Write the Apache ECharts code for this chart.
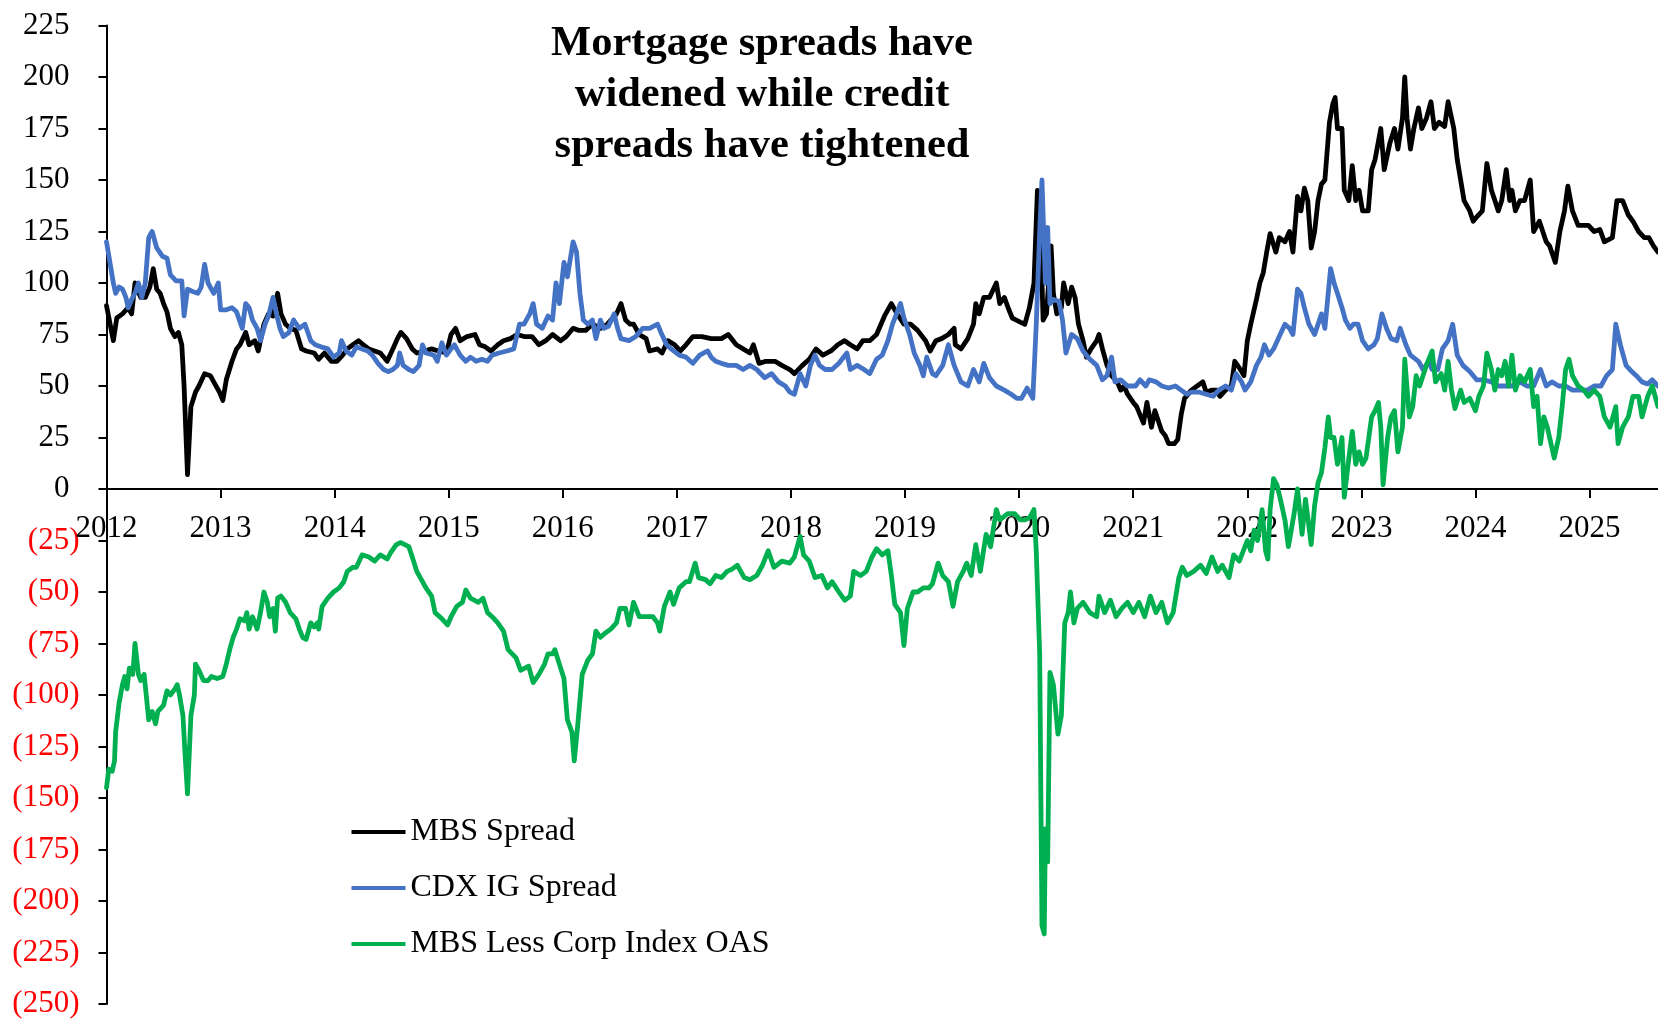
<!DOCTYPE html>
<html>
<head>
<meta charset="utf-8">
<script src="https://cdn.jsdelivr.net/npm/echarts@6/dist/echarts.min.js"></script>
<style>
html,body{margin:0;padding:0;background:#fff;}
#chart{width:1658px;height:1020px;}
</style>
</head>
<body>
<div id="chart"></div>
<script>
const yearTicks = [2012,2013,2014,2015,2016,2017,2018,2019,2020,2021,2022,2023,2024,2025];
const seriesNames = ['MBS Spread', 'CDX IG Spread', 'MBS Less Corp Index OAS'];
const titleLines = ['Mortgage spreads have', 'widened while credit', 'spreads have tightened'];

// [decimal year, bp]
const mbsSpread = [[2012.00,89],[2012.06,72],[2012.09,83],[2012.14,85],[2012.19,88],[2012.22,85],[2012.25,100],[2012.30,93],[2012.34,93],[2012.38,98],[2012.41,107],[2012.44,97],[2012.47,95],[2012.50,90],[2012.53,86],[2012.56,78],[2012.60,74],[2012.63,76],[2012.66,70],[2012.68,50],[2012.71,7],[2012.74,40],[2012.78,47],[2012.81,50],[2012.86,56],[2012.91,55],[2012.94,52],[2012.99,47],[2013.02,43],[2013.05,53],[2013.10,62],[2013.14,68],[2013.17,70],[2013.22,76],[2013.25,70],[2013.30,72],[2013.33,67],[2013.38,80],[2013.42,85],[2013.46,84],[2013.50,95],[2013.53,85],[2013.57,80],[2013.61,78],[2013.66,77],[2013.71,68],[2013.75,67],[2013.82,66],[2013.86,63],[2013.91,66],[2013.97,62],[2014.02,62],[2014.07,65],[2014.11,68],[2014.16,70],[2014.21,72],[2014.25,70],[2014.30,68],[2014.35,67],[2014.40,66],[2014.46,62],[2014.51,68],[2014.55,73],[2014.58,76],[2014.63,73],[2014.68,68],[2014.72,66],[2014.79,67],[2014.85,68],[2014.91,67],[2014.98,66],[2015.02,75],[2015.06,78],[2015.10,72],[2015.16,74],[2015.23,75],[2015.27,70],[2015.32,69],[2015.37,67],[2015.43,70],[2015.48,72],[2015.54,73],[2015.60,75],[2015.66,74],[2015.73,74],[2015.79,70],[2015.85,72],[2015.91,75],[2015.98,72],[2016.03,74],[2016.09,78],[2016.14,77],[2016.20,77],[2016.26,80],[2016.33,78],[2016.39,80],[2016.47,85],[2016.51,90],[2016.55,82],[2016.59,80],[2016.62,80],[2016.67,75],[2016.73,73],[2016.76,67],[2016.83,68],[2016.87,66],[2016.92,72],[2016.98,70],[2017.03,67],[2017.08,70],[2017.14,74],[2017.22,74],[2017.30,73],[2017.39,73],[2017.45,75],[2017.52,70],[2017.58,68],[2017.64,66],[2017.67,70],[2017.72,61],[2017.78,62],[2017.86,62],[2017.92,60],[2017.99,58],[2018.03,56],[2018.10,60],[2018.16,63],[2018.22,68],[2018.28,65],[2018.35,67],[2018.41,70],[2018.47,72],[2018.52,70],[2018.58,68],[2018.63,72],[2018.69,72],[2018.75,75],[2018.82,84],[2018.88,90],[2018.93,85],[2018.99,80],[2019.05,80],[2019.11,77],[2019.18,72],[2019.22,67],[2019.27,72],[2019.32,73],[2019.38,75],[2019.43,78],[2019.44,70],[2019.49,68],[2019.55,73],[2019.60,80],[2019.62,90],[2019.65,85],[2019.69,93],[2019.74,93],[2019.80,100],[2019.83,90],[2019.87,93],[2019.91,87],[2019.94,83],[2020.01,81],[2020.05,80],[2020.09,88],[2020.13,100],[2020.16,145],[2020.19,120],[2020.21,82],[2020.24,85],[2020.28,118],[2020.30,95],[2020.33,85],[2020.37,88],[2020.39,100],[2020.43,90],[2020.46,98],[2020.49,93],[2020.52,80],[2020.56,72],[2020.59,64],[2020.63,68],[2020.68,72],[2020.70,75],[2020.73,68],[2020.77,60],[2020.81,55],[2020.86,52],[2020.89,48],[2020.92,50],[2020.95,46],[2021.00,42],[2021.03,40],[2021.06,36],[2021.09,32],[2021.12,42],[2021.16,30],[2021.19,38],[2021.22,33],[2021.25,28],[2021.28,26],[2021.31,22],[2021.36,22],[2021.39,24],[2021.42,36],[2021.45,44],[2021.51,48],[2021.56,50],[2021.61,52],[2021.64,47],[2021.69,48],[2021.73,48],[2021.76,45],[2021.81,48],[2021.86,50],[2021.89,62],[2021.94,58],[2021.97,55],[2022.00,72],[2022.03,80],[2022.08,92],[2022.11,100],[2022.14,105],[2022.17,115],[2022.20,124],[2022.25,115],[2022.28,122],[2022.33,120],[2022.37,125],[2022.40,115],[2022.44,142],[2022.47,135],[2022.50,146],[2022.53,140],[2022.56,117],[2022.59,125],[2022.62,140],[2022.65,148],[2022.68,150],[2022.72,178],[2022.75,187],[2022.77,190],[2022.79,175],[2022.83,175],[2022.85,145],[2022.89,140],[2022.92,157],[2022.95,140],[2022.98,145],[2023.01,135],[2023.06,135],[2023.09,155],[2023.12,160],[2023.17,175],[2023.20,155],[2023.25,168],[2023.29,175],[2023.32,165],[2023.36,180],[2023.38,200],[2023.40,180],[2023.43,165],[2023.46,175],[2023.50,185],[2023.53,175],[2023.57,180],[2023.61,188],[2023.64,175],[2023.68,178],[2023.73,176],[2023.76,188],[2023.81,175],[2023.84,160],[2023.87,150],[2023.90,140],[2023.95,135],[2023.98,130],[2024.01,132],[2024.06,135],[2024.10,158],[2024.14,145],[2024.17,140],[2024.20,135],[2024.23,140],[2024.27,155],[2024.30,140],[2024.32,145],[2024.35,135],[2024.39,140],[2024.43,140],[2024.48,150],[2024.51,125],[2024.56,130],[2024.59,125],[2024.62,120],[2024.65,118],[2024.70,110],[2024.74,125],[2024.78,135],[2024.81,147],[2024.85,135],[2024.90,128],[2024.95,128],[2024.99,128],[2025.04,125],[2025.09,126],[2025.13,120],[2025.20,122],[2025.24,140],[2025.29,140],[2025.34,133],[2025.38,130],[2025.43,125],[2025.48,122],[2025.52,122],[2025.56,118],[2025.60,115]];

const cdxIgSpread = [[2012.00,120],[2012.03,110],[2012.06,100],[2012.08,95],[2012.11,98],[2012.14,97],[2012.17,93],[2012.19,88],[2012.22,92],[2012.25,95],[2012.28,100],[2012.31,93],[2012.34,100],[2012.37,122],[2012.40,125],[2012.44,117],[2012.49,113],[2012.53,112],[2012.56,104],[2012.61,101],[2012.66,101],[2012.68,84],[2012.71,97],[2012.75,96],[2012.80,95],[2012.83,98],[2012.86,109],[2012.89,100],[2012.94,95],[2012.98,100],[2013.00,87],[2013.05,87],[2013.10,88],[2013.14,86],[2013.19,78],[2013.22,90],[2013.25,88],[2013.28,82],[2013.32,78],[2013.35,72],[2013.39,80],[2013.42,84],[2013.46,93],[2013.49,85],[2013.52,78],[2013.55,74],[2013.60,76],[2013.64,82],[2013.69,78],[2013.74,80],[2013.79,72],[2013.83,70],[2013.88,69],[2013.94,68],[2013.99,64],[2014.04,66],[2014.06,72],[2014.10,67],[2014.15,65],[2014.19,69],[2014.24,68],[2014.29,67],[2014.33,65],[2014.38,61],[2014.43,58],[2014.47,57],[2014.51,58],[2014.55,60],[2014.57,66],[2014.60,60],[2014.65,58],[2014.69,57],[2014.74,60],[2014.77,70],[2014.80,66],[2014.87,65],[2014.90,62],[2014.94,71],[2014.98,65],[2015.02,68],[2015.05,70],[2015.10,65],[2015.15,62],[2015.19,64],[2015.24,62],[2015.29,63],[2015.34,62],[2015.38,65],[2015.44,66],[2015.51,67],[2015.57,68],[2015.62,80],[2015.66,80],[2015.71,85],[2015.74,90],[2015.77,80],[2015.82,78],[2015.87,84],[2015.91,82],[2015.94,100],[2015.97,90],[2016.01,110],[2016.04,103],[2016.09,120],[2016.12,115],[2016.15,95],[2016.18,82],[2016.22,80],[2016.26,82],[2016.29,73],[2016.33,82],[2016.36,78],[2016.40,79],[2016.45,85],[2016.48,78],[2016.51,73],[2016.58,72],[2016.64,74],[2016.70,78],[2016.76,78],[2016.83,80],[2016.86,76],[2016.91,70],[2016.95,68],[2017.02,65],[2017.08,64],[2017.14,61],[2017.20,65],[2017.27,67],[2017.30,64],[2017.34,62],[2017.39,61],[2017.45,60],[2017.52,60],[2017.58,58],[2017.64,60],[2017.70,58],[2017.77,54],[2017.83,56],[2017.89,52],[2017.95,50],[2017.99,47],[2018.03,46],[2018.08,56],[2018.13,50],[2018.17,60],[2018.21,65],[2018.25,60],[2018.30,58],[2018.36,58],[2018.42,61],[2018.49,66],[2018.52,58],[2018.58,60],[2018.64,58],[2018.69,56],[2018.75,63],[2018.80,65],[2018.85,72],[2018.89,80],[2018.96,90],[2018.99,83],[2019.04,75],[2019.08,66],[2019.13,60],[2019.16,55],[2019.19,64],[2019.24,56],[2019.27,55],[2019.33,60],[2019.38,70],[2019.43,60],[2019.49,52],[2019.55,50],[2019.60,58],[2019.65,52],[2019.69,61],[2019.74,54],[2019.80,50],[2019.87,48],[2019.93,46],[2019.98,44],[2020.02,44],[2020.07,49],[2020.12,44],[2020.15,80],[2020.18,125],[2020.20,150],[2020.23,100],[2020.25,127],[2020.27,90],[2020.30,92],[2020.35,91],[2020.38,82],[2020.41,66],[2020.46,75],[2020.51,73],[2020.56,67],[2020.62,63],[2020.68,60],[2020.73,53],[2020.77,55],[2020.81,64],[2020.84,52],[2020.89,53],[2020.95,50],[2021.02,50],[2021.06,53],[2021.11,50],[2021.14,53],[2021.20,52],[2021.25,50],[2021.31,49],[2021.37,50],[2021.42,48],[2021.47,46],[2021.51,47],[2021.58,47],[2021.64,46],[2021.70,45],[2021.75,48],[2021.81,50],[2021.86,48],[2021.90,56],[2021.95,52],[2021.98,48],[2022.03,52],[2022.08,60],[2022.12,64],[2022.15,70],[2022.19,65],[2022.23,68],[2022.28,74],[2022.33,80],[2022.37,78],[2022.40,75],[2022.44,97],[2022.47,95],[2022.50,88],[2022.54,80],[2022.59,75],[2022.62,80],[2022.65,85],[2022.68,78],[2022.73,107],[2022.76,100],[2022.79,95],[2022.83,88],[2022.86,82],[2022.90,78],[2022.93,80],[2022.97,80],[2023.01,72],[2023.06,68],[2023.11,70],[2023.14,73],[2023.18,85],[2023.22,78],[2023.26,73],[2023.31,72],[2023.34,78],[2023.39,70],[2023.43,65],[2023.50,62],[2023.54,58],[2023.59,62],[2023.62,58],[2023.67,58],[2023.71,68],[2023.76,72],[2023.80,80],[2023.84,65],[2023.89,60],[2023.95,57],[2024.01,53],[2024.07,53],[2024.14,52],[2024.20,50],[2024.26,50],[2024.32,50],[2024.39,52],[2024.45,50],[2024.51,50],[2024.57,58],[2024.62,50],[2024.67,52],[2024.73,50],[2024.79,50],[2024.85,48],[2024.92,48],[2024.98,48],[2025.04,50],[2025.10,50],[2025.15,55],[2025.20,58],[2025.23,80],[2025.27,70],[2025.32,60],[2025.37,57],[2025.41,55],[2025.46,52],[2025.51,51],[2025.55,53],[2025.60,50]];

const mbsLessCorpOas = [[2012.00,-145],[2012.02,-136],[2012.05,-137],[2012.07,-132],[2012.08,-118],[2012.11,-104],[2012.14,-95],[2012.16,-91],[2012.18,-97],[2012.20,-87],[2012.23,-90],[2012.25,-75],[2012.28,-90],[2012.30,-93],[2012.33,-90],[2012.37,-112],[2012.40,-108],[2012.43,-114],[2012.45,-108],[2012.50,-105],[2012.53,-98],[2012.56,-100],[2012.60,-97],[2012.62,-95],[2012.64,-100],[2012.67,-110],[2012.69,-130],[2012.71,-148],[2012.74,-110],[2012.77,-100],[2012.78,-85],[2012.81,-88],[2012.85,-93],[2012.89,-93],[2012.92,-91],[2012.97,-92],[2013.02,-91],[2013.05,-85],[2013.08,-78],[2013.11,-72],[2013.14,-68],[2013.17,-63],[2013.21,-64],[2013.23,-60],[2013.25,-68],[2013.28,-62],[2013.32,-68],[2013.35,-60],[2013.38,-50],[2013.41,-55],[2013.43,-62],[2013.46,-58],[2013.48,-69],[2013.50,-53],[2013.53,-52],[2013.57,-55],[2013.61,-60],[2013.66,-63],[2013.69,-68],[2013.72,-72],[2013.75,-73],[2013.79,-65],[2013.82,-67],[2013.85,-65],[2013.86,-68],[2013.89,-57],[2013.94,-53],[2013.99,-50],[2014.04,-48],[2014.08,-45],[2014.11,-40],[2014.16,-38],[2014.19,-38],[2014.24,-32],[2014.30,-33],[2014.35,-35],[2014.40,-32],[2014.46,-34],[2014.49,-31],[2014.54,-27],[2014.58,-26],[2014.65,-28],[2014.68,-33],[2014.72,-40],[2014.76,-44],[2014.80,-48],[2014.85,-52],[2014.88,-60],[2014.94,-63],[2014.99,-66],[2015.02,-62],[2015.07,-57],[2015.12,-55],[2015.15,-49],[2015.19,-53],[2015.26,-55],[2015.30,-53],[2015.34,-60],[2015.38,-62],[2015.43,-65],[2015.48,-69],[2015.52,-78],[2015.59,-82],[2015.63,-88],[2015.70,-86],[2015.74,-94],[2015.79,-90],[2015.84,-85],[2015.87,-80],[2015.91,-80],[2015.93,-78],[2015.97,-85],[2016.01,-92],[2016.04,-112],[2016.08,-118],[2016.10,-132],[2016.13,-115],[2016.17,-90],[2016.22,-83],[2016.26,-80],[2016.29,-69],[2016.33,-72],[2016.37,-70],[2016.42,-68],[2016.47,-65],[2016.50,-58],[2016.55,-58],[2016.58,-66],[2016.62,-55],[2016.67,-62],[2016.73,-62],[2016.79,-62],[2016.83,-65],[2016.85,-69],[2016.89,-57],[2016.94,-50],[2016.97,-56],[2017.02,-48],[2017.08,-45],[2017.11,-45],[2017.16,-36],[2017.19,-43],[2017.25,-44],[2017.29,-46],[2017.34,-42],[2017.39,-43],[2017.44,-40],[2017.48,-39],[2017.53,-37],[2017.59,-43],[2017.64,-44],[2017.70,-42],[2017.75,-37],[2017.80,-30],[2017.85,-38],[2017.92,-35],[2017.99,-36],[2018.03,-33],[2018.08,-23],[2018.11,-32],[2018.16,-35],[2018.21,-43],[2018.27,-42],[2018.32,-48],[2018.36,-45],[2018.42,-50],[2018.47,-54],[2018.52,-52],[2018.55,-40],[2018.61,-42],[2018.66,-40],[2018.71,-33],[2018.75,-29],[2018.80,-32],[2018.85,-30],[2018.88,-42],[2018.91,-56],[2018.96,-60],[2018.99,-76],[2019.02,-58],[2019.07,-50],[2019.11,-50],[2019.16,-48],[2019.21,-48],[2019.24,-46],[2019.29,-36],[2019.33,-42],[2019.38,-45],[2019.42,-57],[2019.46,-45],[2019.51,-40],[2019.54,-36],[2019.58,-42],[2019.62,-27],[2019.66,-40],[2019.71,-22],[2019.75,-28],[2019.80,-10],[2019.83,-15],[2019.90,-12],[2019.96,-12],[2020.01,-15],[2020.05,-15],[2020.09,-14],[2020.13,-10],[2020.15,-30],[2020.18,-80],[2020.20,-212],[2020.22,-216],[2020.23,-165],[2020.25,-181],[2020.27,-89],[2020.30,-95],[2020.34,-119],[2020.37,-110],[2020.40,-65],[2020.43,-60],[2020.45,-50],[2020.48,-65],[2020.51,-58],[2020.56,-55],[2020.62,-60],[2020.68,-62],[2020.70,-52],[2020.75,-60],[2020.80,-54],[2020.85,-62],[2020.90,-58],[2020.95,-55],[2021.00,-60],[2021.05,-55],[2021.10,-62],[2021.15,-52],[2021.20,-60],[2021.25,-55],[2021.30,-65],[2021.35,-60],[2021.40,-43],[2021.43,-38],[2021.47,-42],[2021.53,-40],[2021.59,-37],[2021.64,-41],[2021.69,-33],[2021.74,-40],[2021.78,-37],[2021.84,-43],[2021.88,-32],[2021.93,-35],[2022.00,-25],[2022.03,-30],[2022.06,-20],[2022.09,-25],[2022.13,-10],[2022.16,-30],[2022.18,-34],[2022.20,-10],[2022.23,5],[2022.26,2],[2022.29,-5],[2022.33,-15],[2022.36,-28],[2022.41,-12],[2022.44,0],[2022.48,-22],[2022.51,-5],[2022.56,-27],[2022.59,-8],[2022.62,3],[2022.65,8],[2022.68,20],[2022.71,35],[2022.73,25],[2022.76,25],[2022.79,12],[2022.83,25],[2022.85,-4],[2022.89,15],[2022.92,28],[2022.95,12],[2022.98,18],[2023.01,12],[2023.04,15],[2023.09,35],[2023.12,38],[2023.15,42],[2023.17,30],[2023.19,2],[2023.23,25],[2023.26,35],[2023.29,38],[2023.32,18],[2023.36,30],[2023.38,63],[2023.42,35],[2023.45,40],[2023.48,55],[2023.51,50],[2023.54,55],[2023.57,60],[2023.62,67],[2023.65,52],[2023.70,56],[2023.73,48],[2023.76,62],[2023.79,48],[2023.82,39],[2023.87,48],[2023.90,42],[2023.95,44],[2024.00,38],[2024.03,45],[2024.07,50],[2024.10,66],[2024.14,58],[2024.17,48],[2024.20,58],[2024.23,55],[2024.26,62],[2024.29,50],[2024.32,65],[2024.35,48],[2024.39,55],[2024.43,52],[2024.48,58],[2024.51,40],[2024.54,45],[2024.57,22],[2024.60,35],[2024.63,30],[2024.67,20],[2024.69,15],[2024.73,25],[2024.76,40],[2024.79,58],[2024.82,63],[2024.85,55],[2024.90,50],[2024.95,48],[2024.99,45],[2025.04,48],[2025.09,45],[2025.13,35],[2025.18,30],[2025.23,40],[2025.25,22],[2025.29,30],[2025.34,35],[2025.38,45],[2025.43,45],[2025.46,35],[2025.51,45],[2025.55,50],[2025.60,40]];

const FONT = '"Liberation Serif", "Times New Roman", serif';
const colors = ['#000000', '#4472C4', '#00B050'];
const seriesData = [mbsSpread, cdxIgSpread, mbsLessCorpOas];

const Y_MIN = -250, Y_MAX = 225;
const GRID_TOP = 25.5, GRID_BOTTOM = 16, CHART_H = 1020;
// move the x axis (line, ticks, labels) up to the zero line
const plotH = CHART_H - GRID_TOP - GRID_BOTTOM;
const zeroOffset = -plotH * (0 - Y_MIN) / (Y_MAX - Y_MIN);

const chart = echarts.init(document.getElementById('chart'), null, {renderer: 'canvas'});
chart.setOption({
  animation: false,
  backgroundColor: '#ffffff',
  textStyle: {fontFamily: FONT},
  grid: {left: 106.5, right: 0, top: GRID_TOP, bottom: GRID_BOTTOM, containLabel: false, outerBoundsMode: 'none'},
  graphic: [{
    type: 'text',
    x: 762, y: 19,
    style: {
      text: titleLines.join('\n'),
      align: 'center', verticalAlign: 'top',
      fontFamily: FONT, fontWeight: 'bold', fontSize: 42.5, lineHeight: 51,
      fill: '#000'
    }
  }],
  legend: {
    orient: 'vertical', left: 351.5, top: 816, padding: 0,
    itemWidth: 54, itemHeight: 4, itemGap: 24, icon: 'rect',
    selectedMode: false,
    textStyle: {fontFamily: FONT, fontSize: 32, color: '#000', lineHeight: 32},
    data: seriesNames
  },
  xAxis: {
    type: 'value', min: 2012, max: 2025.6, interval: 1,
    offset: zeroOffset,
    axisLine: {onZero: false, lineStyle: {color: '#000', width: 2}},
    axisTick: {show: true, length: 9, lineStyle: {color: '#000', width: 2}, customValues: yearTicks},
    axisLabel: {
      customValues: yearTicks, margin: 24,
      fontFamily: FONT, fontSize: 31, color: '#000',
      formatter: v => String(v)
    },
    splitLine: {show: false}
  },
  yAxis: {
    type: 'value', min: Y_MIN, max: Y_MAX, interval: 25,
    axisLine: {show: true, onZero: false, lineStyle: {color: '#000', width: 2}},
    axisTick: {show: true, length: 8, lineStyle: {color: '#000', width: 2}},
    axisLabel: {
      margin: 27, fontFamily: FONT, fontSize: 31,
      formatter: v => v < 0 ? '{n|(' + (-v) + ')}' : '{p|' + v + '}',
      rich: {
        n: {color: '#FF0000', fontFamily: FONT, fontSize: 31},
        p: {color: '#000000', fontFamily: FONT, fontSize: 31, padding: [0, 10, 0, 0]}
      }
    },
    splitLine: {show: false}
  },
  series: seriesNames.map((name, i) => ({
    name: name,
    type: 'line',
    data: seriesData[i],
    color: colors[i],
    showSymbol: false,
    symbol: 'none',
    clip: true,
    lineStyle: {color: colors[i], width: 4.8, join: 'round', cap: 'round'},
    z: 2 + i
  }))
});
</script>
</body>
</html>
